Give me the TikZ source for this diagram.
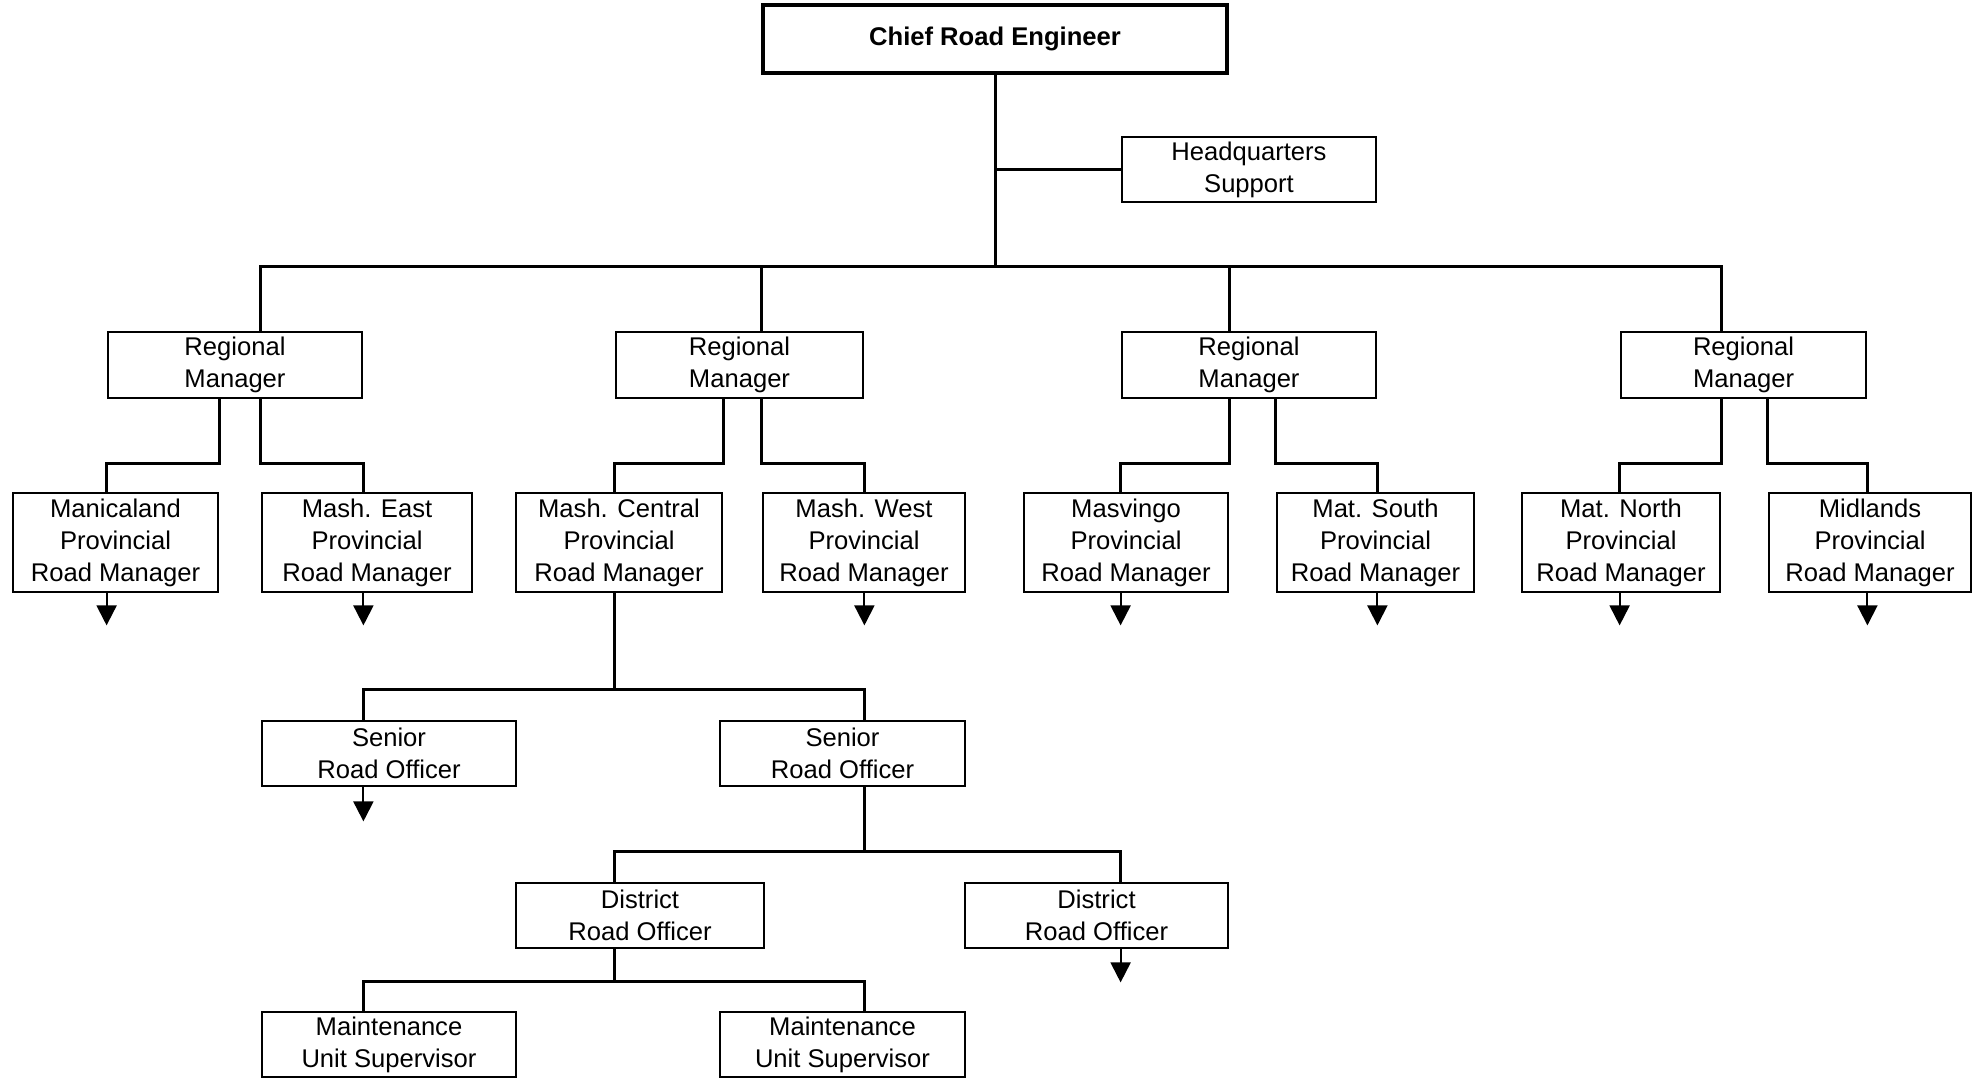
\documentclass[tikz,border=0pt]{standalone}
\usepackage{fontspec}
\setmainfont{Liberation Sans}
\usetikzlibrary{arrows.meta}
\begin{document}
\begin{tikzpicture}[x=0.5pt,y=-0.5pt,
  box/.style={draw, line width=1.4pt, inner sep=0pt, align=center,
    font=\fontsize{12.8}{16}\selectfont},
  conn/.style={line width=1.5pt},
  arr/.style={line width=1pt, -{Triangle[width=10pt,length=10pt]}}]
\useasboundingbox (0,0) rectangle (1979,1079);
% boxes
\node[box, line width=2.2pt, minimum width=232pt, minimum height=34pt, font=\fontsize{12.8}{16}\selectfont\bfseries] (chief) at (995,39) {Chief Road Engineer};
\node[box, minimum width=127pt, minimum height=32.5pt] (hq) at (1249,169.5) {Headquarters\\Support};
\node[box, minimum width=127pt, minimum height=33pt] (r1) at (235,365) {Regional\\Manager};
\node[box, minimum width=123.5pt, minimum height=33pt] (r2) at (739.5,365) {Regional\\Manager};
\node[box, minimum width=127pt, minimum height=33pt] (r3) at (1249,365) {Regional\\Manager};
\node[box, minimum width=122.5pt, minimum height=33pt] (r4) at (1743.5,365) {Regional\\Manager};
\node[box, minimum width=102.5pt, minimum height=49.5pt] (p1) at (115.5,542.5) {Manicaland\\Provincial\\Road Manager};
\node[box, minimum width=105pt, minimum height=49.5pt] (p2) at (367,542.5) {Mash. East\\Provincial\\Road Manager};
\node[box, minimum width=103pt, minimum height=49.5pt] (p3) at (619,542.5) {Mash. Central\\Provincial\\Road Manager};
\node[box, minimum width=101pt, minimum height=49.5pt] (p4) at (864,542.5) {Mash. West\\Provincial\\Road Manager};
\node[box, minimum width=102pt, minimum height=49.5pt] (p5) at (1126,542.5) {Masvingo\\Provincial\\Road Manager};
\node[box, minimum width=98.5pt, minimum height=49.5pt] (p6) at (1375.5,542.5) {Mat. South\\Provincial\\Road Manager};
\node[box, minimum width=99pt, minimum height=49.5pt] (p7) at (1621,542.5) {Mat. North\\Provincial\\Road Manager};
\node[box, minimum width=101pt, minimum height=49.5pt] (p8) at (1870,542.5) {Midlands\\Provincial\\Road Manager};
\node[box, minimum width=127pt, minimum height=32.5pt] (s1) at (389,753.5) {Senior\\Road Officer};
\node[box, minimum width=122.5pt, minimum height=32.5pt] (s2) at (842.5,753.5) {Senior\\Road Officer};
\node[box, minimum width=124pt, minimum height=32.5pt] (d1) at (640,915.5) {District\\Road Officer};
\node[box, minimum width=131.5pt, minimum height=32.5pt] (d2) at (1096.5,915.5) {District\\Road Officer};
\node[box, minimum width=127pt, minimum height=32.5pt] (m1) at (389,1044.5) {Maintenance\\Unit Supervisor};
\node[box, minimum width=122.5pt, minimum height=32.5pt] (m2) at (842.5,1044.5) {Maintenance\\Unit Supervisor};
% top level connectors
\coordinate (bus) at (995,267);
\draw[conn] (chief.south) -- (bus);
\draw[conn] (chief.south) |- (hq.west);
\draw[conn] (r1.north -| p2.west) |- (bus) -| (r4.north -| p7.east);
\draw[conn] (r2.north -| p4.west) |- (bus);
\draw[conn] (r3.north -| p5.east) |- (bus);
% regional to provincial
\draw[conn] (r1.south -| p1.east) -- ++(0,64) -| (p1.north -| r1.west);
\draw[conn] (r1.south -| p2.west) -- ++(0,64) -| (p2.north -| r1.east);
\draw[conn] (r2.south -| p3.east) -- ++(0,64) -| (p3.north -| r2.west);
\draw[conn] (r2.south -| p4.west) -- ++(0,64) -| (p4.north -| r2.east);
\draw[conn] (r3.south -| p5.east) -- ++(0,64) -| (p5.north -| r3.west);
\draw[conn] (r3.south -| p6.west) -- ++(0,64) -| (p6.north -| r3.east);
\draw[conn] (r4.south -| p7.east) -- ++(0,64) -| (p7.north -| r4.west);
\draw[conn] (r4.south -| p8.west) -- ++(0,64) -| (p8.north -| r4.east);
% provincial arrows
\draw[arr] (p1.south -| r1.west) -- ++(0,32);
\draw[arr] (p2.south -| r1.east) -- ++(0,32);
\draw[arr] (p4.south -| r2.east) -- ++(0,32);
\draw[arr] (p5.south -| r3.west) -- ++(0,32);
\draw[arr] (p6.south -| r3.east) -- ++(0,32);
\draw[arr] (p7.south -| r4.west) -- ++(0,32);
\draw[arr] (p8.south -| r4.east) -- ++(0,32);
% Mash. Central to senior officers
\draw[conn] (p3.south -| r2.west) -- ++(0,96) coordinate (j1);
\draw[conn] (s1.north -| r1.east) |- (j1) -| (s2.north -| r2.east);
\draw[arr] (s1.south -| r1.east) -- ++(0,34);
% senior to district
\draw[conn] (s2.south -| r2.east) -- ++(0,64) coordinate (j2);
\draw[conn] (d1.north -| r2.west) |- (j2) -| (d2.north -| r3.west);
\draw[arr] (d2.south -| r3.west) -- ++(0,33);
% district to maintenance
\draw[conn] (d1.south -| r2.west) -- ++(0,32) coordinate (j3);
\draw[conn] (m1.north -| r1.east) |- (j3) -| (m2.north -| r2.east);
\end{tikzpicture}
\end{document}
